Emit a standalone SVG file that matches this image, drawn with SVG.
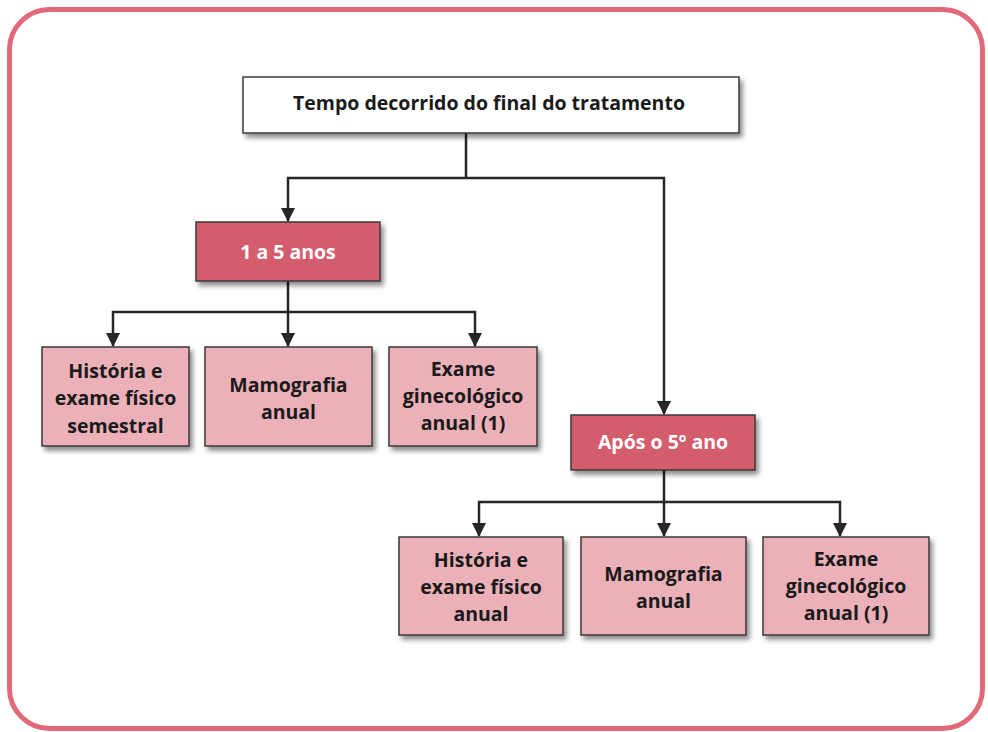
<svg xmlns="http://www.w3.org/2000/svg" width="988" height="732" viewBox="0 0 988 732">
<defs>
<style>
.box{stroke:#3a3a3a;stroke-width:1.5;filter:url(#sh)}
.dark{fill:#d35b6d}
.light{fill:#ebb0b8}
.white{fill:#ffffff}
text{font-family:"Open Sans","Noto Sans","Liberation Sans",sans-serif;font-weight:bold;font-size:19.5px;text-anchor:middle}
.tw{fill:#ffffff}
.tb{fill:#1a1a1a}
.conn path{fill:none;stroke:#262626;stroke-width:2.5}
</style>
<filter id="sh" x="-10%" y="-10%" width="125%" height="140%">
<feDropShadow dx="3" dy="4" stdDeviation="2.5" flood-color="#000" flood-opacity="0.45"/>
</filter>
<marker id="ah" viewBox="0 0 14 14" refX="13" refY="7" markerWidth="14" markerHeight="14" markerUnits="userSpaceOnUse" orient="auto">
<path d="M0,0 L14,7 L0,14 Z" fill="#262626"/>
</marker>
</defs>
<rect x="9.5" y="9.5" width="973" height="719" rx="40" ry="40" fill="#ffffff" stroke="#e06a78" stroke-width="5"/>
<g class="conn">
<path d="M466,133 V178"/>
<path d="M466,178 H288 V221" marker-end="url(#ah)"/>
<path d="M466,178 H664 V414" marker-end="url(#ah)"/>
<path d="M288,281 V312"/>
<path d="M288,312 H113 V346" marker-end="url(#ah)"/>
<path d="M288,312 V346" marker-end="url(#ah)"/>
<path d="M288,312 H475 V346" marker-end="url(#ah)"/>
<path d="M664,470 V502"/>
<path d="M664,502 H479 V536" marker-end="url(#ah)"/>
<path d="M664,502 V536" marker-end="url(#ah)"/>
<path d="M664,502 H840 V536" marker-end="url(#ah)"/>
</g>
<g id="root">
<rect class="box white" x="243" y="77" width="496" height="56"/>
<text class="tb" x="489" y="110">Tempo decorrido do final do tratamento</text>
</g>
<g id="anos1a5">
<rect class="box dark" x="196" y="222" width="184" height="59"/>
<text class="tw" x="288" y="259">1 a 5 anos</text>
</g>
<g id="a1">
<rect class="box light" x="42" y="347" width="147" height="99"/>
<text class="tb" x="115.5" y="378">História e</text>
<text class="tb" x="115.5" y="405">exame físico</text>
<text class="tb" x="115.5" y="433">semestral</text>
</g>
<g id="a2">
<rect class="box light" x="205" y="347" width="167" height="99"/>
<text class="tb" x="288.5" y="392">Mamografia</text>
<text class="tb" x="288.5" y="419">anual</text>
</g>
<g id="a3">
<rect class="box light" x="389" y="347" width="148" height="99"/>
<text class="tb" x="463" y="376">Exame</text>
<text class="tb" x="463" y="403">ginecológico</text>
<text class="tb" x="463" y="430">anual (1)</text>
</g>
<g id="apos5">
<rect class="box dark" x="571" y="415" width="184" height="55"/>
<text class="tw" x="663" y="449">Após o 5º ano</text>
</g>
<g id="b1">
<rect class="box light" x="399" y="537" width="164" height="98"/>
<text class="tb" x="481" y="567">História e</text>
<text class="tb" x="481" y="594">exame físico</text>
<text class="tb" x="481" y="621">anual</text>
</g>
<g id="b2">
<rect class="box light" x="581" y="537" width="165" height="98"/>
<text class="tb" x="663.5" y="581">Mamografia</text>
<text class="tb" x="663.5" y="608">anual</text>
</g>
<g id="b3">
<rect class="box light" x="763" y="537" width="166" height="98"/>
<text class="tb" x="846" y="566">Exame</text>
<text class="tb" x="846" y="593">ginecológico</text>
<text class="tb" x="846" y="620">anual (1)</text>
</g>
</svg>
